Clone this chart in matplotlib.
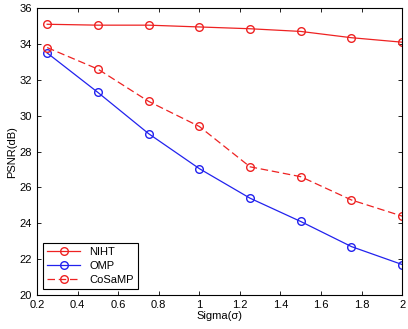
import matplotlib
matplotlib.use("Agg")
import matplotlib.pyplot as plt

sigma = [0.25, 0.5, 0.75, 1.0, 1.25, 1.5, 1.75, 2.0]
niht = [35.1, 35.05, 35.05, 34.95, 34.85, 34.7, 34.35, 34.1]
omp = [33.5, 31.3, 29.0, 27.05, 25.4, 24.1, 22.7, 21.7]
cosamp = [33.8, 32.6, 30.8, 29.4, 27.15, 26.6, 25.3, 24.4]

xticks = [0.2, 0.4, 0.6, 0.8, 1.0, 1.2, 1.4, 1.6, 1.8, 2.0]
xticklabels = ["0.2", "0.4", "0.6", "0.8", "1", "1.2", "1.4", "1.6", "1.8", "2"]
yticks = [20, 22, 24, 26, 28, 30, 32, 34, 36]

plt.rcParams['font.family'] = ['Liberation Sans', 'DejaVu Sans']
fig = plt.figure(figsize=(4.08, 3.29), dpi=100)
ax = fig.add_axes([0.0907, 0.1033, 0.895, 0.872])

ax.plot(sigma, niht, '-o', color='#ee2222', mfc='none', ms=5.5, lw=0.9, label='NIHT')
ax.plot(sigma, omp, '-o', color='#2222ee', mfc='none', ms=5.5, lw=0.9, label='OMP')
ax.plot(sigma, cosamp, '--o', color='#ee2222', mfc='none', ms=5.5, lw=0.9,
        dashes=(6, 3), label='CoSaMP')

ax.set_xlim(0.2, 2.0)
ax.set_ylim(20, 36)
ax.set_xticks(xticks)
ax.set_xticklabels(xticklabels)
ax.set_yticks(yticks)
ax.tick_params(direction='in', top=True, right=True, labelsize=8, length=3, width=0.6)
for s in ax.spines.values():
    s.set_linewidth(0.8)
ax.set_xlabel('Sigma(σ)', fontsize=8, labelpad=1)
ax.set_ylabel('PSNR(dB)', fontsize=8, labelpad=2)
leg = ax.legend(loc='lower left', fontsize=8, fancybox=False, edgecolor='black',
                framealpha=1, borderpad=0.4, handlelength=3, labelspacing=0.35)
leg.get_frame().set_linewidth(0.8)
fig.savefig('out.png', dpi=100)
